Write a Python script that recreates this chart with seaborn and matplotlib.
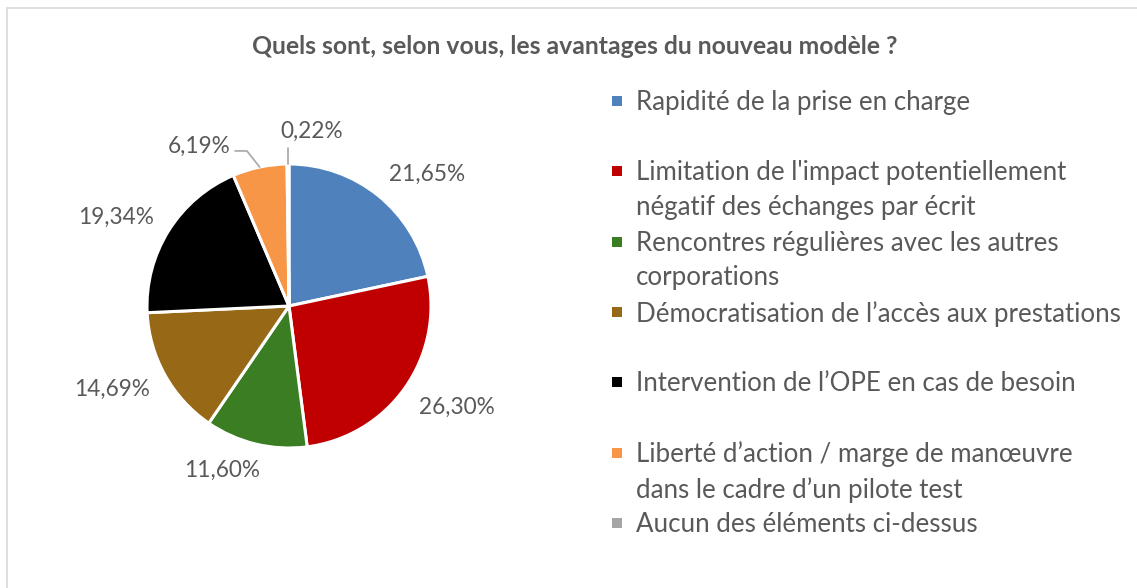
import matplotlib

matplotlib.use("Agg")

import matplotlib.pyplot as plt
import numpy as np
import seaborn as sns
from matplotlib.patches import Rectangle
from matplotlib.lines import Line2D

# data
categories = [
    "Rapidité de la prise en charge",
    "Limitation de l'impact potentiellement\nnégatif des échanges par écrit",
    "Rencontres régulières avec les autres\ncorporations",
    "Démocratisation de l\u2019accès aux prestations",
    "Intervention de l\u2019OPE en cas de besoin",
    "Liberté d\u2019action / marge de manœuvre\ndans le cadre d\u2019un pilote test",
    "Aucun des éléments ci-dessus",
]
shares = [21.65, 26.30, 11.60, 14.69, 19.34, 6.19, 0.22]
colors = ["#4F81BD", "#C00000", "#3A7D22", "#976815", "#000000", "#F79646", "#A5A5A5"]

# label placement (radius in pie radii, angle in degrees)
label_polar = [(1.345, 43.7), (1.38, -31.3), (1.25, -112), (1.38, -154.9),
               (1.37, 153), (1.29, 119.5), (1.24, 82.6)]

sns.set_theme(style="white")
plt.rcParams["font.family"] = ["Lato", "DejaVu Sans"]

W, H = 1137, 588
fig = plt.figure(figsize=(W / 100, H / 100), dpi=100)
txt = "#595959"

# outer frame (top and left edges only visible)
fig.add_artist(Line2D([7 / W, 7 / W], [0, 1 - 8 / H], color="#D9D9D9", lw=1.2))
fig.add_artist(Line2D([7 / W, 1], [1 - 8 / H, 1 - 8 / H], color="#D9D9D9", lw=1.2))

fig.text(575 / W, 1 - 46 / H, "Quels sont, selon vous, les avantages du nouveau modèle ?",
         ha="center", va="center", fontsize=17.8, fontweight="bold", color=txt)

# pie: center (289, 306) px, radius 142 px
R = 142
cx, cy = 289, 306
ax = fig.add_axes([(cx - 1.5 * R) / W, (H - cy - 1.5 * R) / H, 3 * R / W, 3 * R / H])
wedges, _ = ax.pie(shares, colors=colors, startangle=90, counterclock=False,
                   wedgeprops=dict(edgecolor="white", linewidth=2.2))
ax.set_xlim(-1.5, 1.5)
ax.set_ylim(-1.5, 1.5)
ax.set_axis_off()

for val, (r, ang) in zip(shares, label_polar):
    a = np.deg2rad(ang)
    ax.text(r * np.cos(a), r * np.sin(a), f"{val:.2f}%".replace(".", ","),
            ha="center", va="center", fontsize=16.3, color=txt)

# leader lines for the two small slices
mids = [np.deg2rad((w.theta1 + w.theta2) / 2) for w in wedges]
m = mids[5]
ax.plot([-0.38, -0.296, np.cos(m)], [1.092, 1.092, np.sin(m)], color="#A6A6A6", lw=1.2)
m = mids[6]
ax.plot([np.cos(m), np.cos(m)], [1.113, np.sin(m)], color="#A6A6A6", lw=1.2)

# legend, one entry every 70.3 px
for i, (lab, col) in enumerate(zip(categories, colors)):
    yc = 101 + 70.3 * i
    fig.add_artist(Rectangle((612 / W, 1 - (yc + 5) / H), 10 / W, 10 / H,
                             facecolor=col, edgecolor="none"))
    fig.text(636 / W, 1 - (yc - 11) / H, lab, ha="left", va="top",
             fontsize=18.6, color=txt, linespacing=1.49)

fig.savefig("out.png", dpi=100)
